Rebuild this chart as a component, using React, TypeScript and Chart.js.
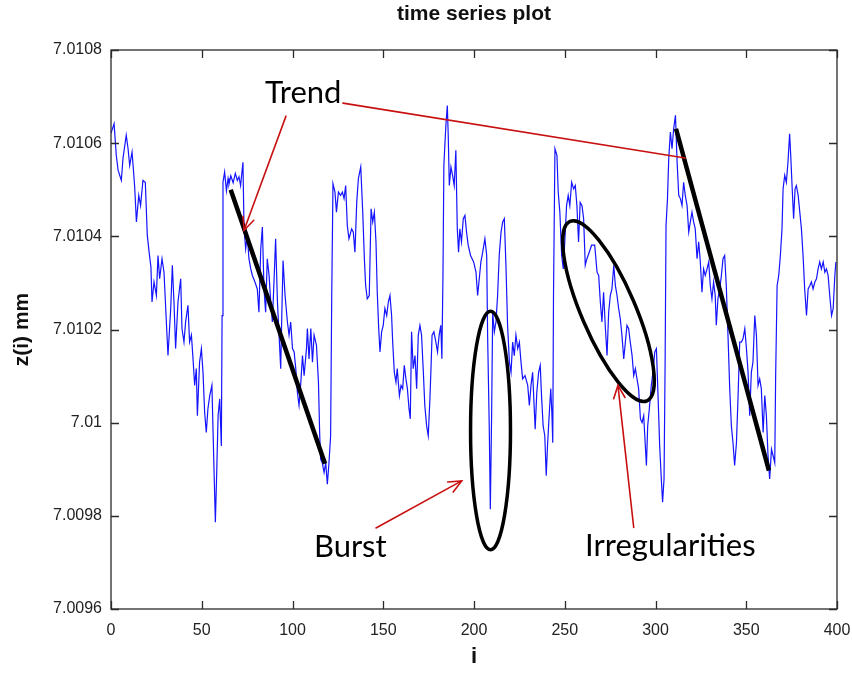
import React, { useEffect, useRef } from 'react';
import { Chart, registerables } from 'chart.js';

Chart.register(...registerables);

// ---- data ----
const sampleIndex = [
  0, 1.7, 2.9, 3.9, 5.7, 6.6, 8.4, 9.4, 10.3, 11.6,
  13, 14, 15.3, 16.3, 17.6, 18.9, 20, 21, 22, 22.6,
  23.7, 25, 25.9, 26.8, 28.1, 29.2, 30.5, 31.4, 32.9, 33.8,
  34.7, 35.6, 36.9, 38.4, 39.1, 40.2, 41.1, 42.4, 43.3, 44.3,
  45.2, 46.1, 47, 47.6, 48.8, 49.8, 50.7, 51.6, 52.5, 53.4,
  54.4, 55.6, 56.7, 57.5, 58.2, 59, 59.9, 60.8, 61.2, 61.7,
  62.6, 63.6, 64.5, 65, 66, 67.3, 68.5, 69.6, 70.5, 71.4,
  72.7, 73.3, 74.2, 75.1, 76, 77, 77.9, 79.3, 80.6, 81.5,
  82.5, 83.4, 84.3, 85.2, 86.1, 87.1, 88, 88.9, 89.8, 90.7,
  91.7, 92.6, 93.5, 94.1, 94.8, 95.9, 97.2, 98.1, 99, 100,
  100.9, 101.8, 102.7, 103.6, 104.6, 105.5, 106.4, 107.7, 108.2, 109.1,
  110.1, 111, 111.9, 113.2, 114.3, 115, 115.5, 116.4, 117.4, 118.3,
  119.2, 120.1, 121, 121.6, 122.3, 123.4, 124.2, 125.3, 126.5, 127.5,
  128.4, 129.3, 130.2, 131.1, 132.6, 133.5, 134.4, 135.4, 136.3, 137.6,
  138.7, 139.6, 140.3, 141.2, 142.3, 143.3, 144.2, 145.1, 146, 146.7,
  147.5, 148.2, 149.1, 150, 150.9, 151.9, 152.8, 153.7, 154.6, 155.2,
  156.1, 157, 157.7, 158.9, 159.8, 160.7, 161.6, 162.5, 163.3, 164.2,
  164.9, 165.6, 166.5, 167.5, 168.4, 169.3, 170.2, 171.1, 172, 172.9,
  173.9, 174.8, 175.7, 176.3, 176.9, 177.9, 179, 179.9, 180.8, 181.7,
  182.3, 182.9, 183.4, 184.5, 185.3, 185.8, 186.4, 187.3, 188.2, 189.1,
  190, 190.8, 191.5, 192.2, 193.1, 194.1, 195, 195.9, 196.8, 198.1,
  199.8, 201.1, 202, 202.9, 203.8, 204.8, 206, 207, 207.5, 208.4,
  209, 209.7, 210.3, 211.2, 212.1, 213, 213.9, 214.9, 215.8, 216.7,
  217.6, 218.5, 219.5, 220.4, 221.3, 222.2, 223.1, 224.1, 225, 225.9,
  226.8, 228.1, 229.6, 230.5, 231.4, 232.3, 233.2, 233.7, 234.6, 235.6,
  236.5, 237.2, 238.1, 239, 239.8, 240.5, 241.4, 242.3, 242.9, 243.4,
  243.8, 244.6, 245.7, 246.4, 247.3, 248.3, 249.2, 250.1, 251, 251.9,
  252.8, 253.8, 254.9, 255.8, 256.7, 257.6, 258.5, 259.5, 260.4, 261.3,
  262.2, 263.5, 264.8, 266.5, 267.8, 268.7, 269.6, 270.5, 271.4, 272.4,
  273.3, 274.2, 275.1, 276, 277, 277.9, 278.8, 279.7, 280.6, 281.5,
  282.5, 283.4, 284.3, 285.2, 286.1, 287.1, 288, 288.9, 289.8, 290.7,
  291.7, 292.6, 293.5, 294.4, 295, 295.7, 296.6, 297.7, 298.6, 299.6,
  300.5, 301.4, 302.3, 303.2, 303.9, 304.7, 305.3, 305.8, 306.6, 307.3,
  308.2, 309.1, 310, 311, 311.9, 312.8, 313.7, 314.6, 315.5, 316.4,
  317.4, 318.3, 319.2, 320.1, 321, 321.9, 322.9, 323.8, 324.7, 325.6,
  326.5, 327.4, 328.4, 329.3, 330.2, 331.1, 332, 332.9, 333.5, 334.4,
  335.4, 336.3, 337.2, 338.1, 339, 340, 340.9, 341.8, 342.7, 343.6,
  344.6, 345.5, 346.4, 347.3, 348.2, 349.2, 350.1, 351, 351.9, 352.8,
  353.7, 354.7, 355.6, 356.5, 357.4, 358.3, 359.3, 360.2, 361.1, 362,
  362.9, 363.9, 364.8, 365.7, 366.2, 367, 367.9, 368.8, 369.7, 370.3,
  371.2, 372.1, 373, 373.9, 374.5, 375.4, 376.1, 376.9, 377.6, 378.6,
  379.5, 380.4, 381.3, 382.2, 383.2, 384.1, 385, 385.9, 386.8, 387.8,
  388.7, 389.6, 390.5, 391.4, 392.4, 393.3, 394.2, 395.1, 396, 397,
  397.9, 398.8, 399.4,
];

const zValues = [
  7.010621, 7.010642, 7.010574, 7.010542, 7.01052, 7.010567, 7.010617, 7.010588, 7.010552, 7.010581,
  7.010509, 7.010431, 7.010488, 7.010466, 7.01052, 7.010516, 7.010402, 7.010366, 7.010334, 7.010259,
  7.010302, 7.010273, 7.010359, 7.010309, 7.010352, 7.010323, 7.010216, 7.010144, 7.010245, 7.010338,
  7.010259, 7.010159, 7.010259, 7.010309, 7.010202, 7.010173, 7.010216, 7.010252, 7.010173, 7.010188,
  7.010137, 7.01008, 7.010116, 7.010015, 7.01013, 7.010159, 7.010108, 7.010022, 7.009979, 7.01003,
  7.010058, 7.01008, 7.009908, 7.009786, 7.009886, 7.010015, 7.010051, 7.00995, 7.01023, 7.010516,
  7.010538, 7.010498, 7.010524, 7.010512, 7.01053, 7.010515, 7.010535, 7.01052, 7.010528, 7.010509,
  7.010559, 7.010416, 7.010373, 7.010402, 7.010352, 7.01033, 7.010316, 7.010302, 7.010287, 7.010237,
  7.010373, 7.01042, 7.010287, 7.010237, 7.010352, 7.010316, 7.010259, 7.010216, 7.010302, 7.010395,
  7.010259, 7.010188, 7.010116, 7.01023, 7.010348, 7.010273, 7.010216, 7.010188, 7.010216, 7.010159,
  7.010152, 7.010116, 7.010065, 7.010037, 7.010087, 7.010144, 7.010101, 7.010159, 7.010202, 7.010137,
  7.010202, 7.01013, 7.010188, 7.010166, 7.010087, 7.009972, 7.009922, 7.009914, 7.009893, 7.009914,
  7.009868, 7.009914, 7.009972, 7.010266, 7.010513, 7.010495, 7.010452, 7.010495, 7.010488, 7.010495,
  7.010481, 7.010509, 7.010423, 7.010395, 7.010416, 7.010409, 7.010366, 7.010474, 7.010524, 7.010549,
  7.010452, 7.010352, 7.010294, 7.010266, 7.010273, 7.010459, 7.010431, 7.010452, 7.010388, 7.01028,
  7.010202, 7.010152, 7.010195, 7.010209, 7.010245, 7.01023, 7.010259, 7.010273, 7.01023, 7.010173,
  7.010108, 7.010087, 7.010116, 7.010058, 7.01008, 7.010073, 7.010123, 7.010094, 7.010073, 7.01003,
  7.010008, 7.010195, 7.010116, 7.010144, 7.010073, 7.010188, 7.010209, 7.010188, 7.010116, 7.010037,
  7.009993, 7.009972, 7.010051, 7.010116, 7.010188, 7.010195, 7.010173, 7.010152, 7.010188, 7.010209,
  7.010137, 7.010316, 7.010553, 7.010638, 7.010681, 7.010617, 7.010509, 7.010549, 7.010531, 7.010509,
  7.010585, 7.010416, 7.010366, 7.010416, 7.010388, 7.010438, 7.010445, 7.010409, 7.010381, 7.010359,
  7.010345, 7.010323, 7.010273, 7.010309, 7.010345, 7.010366, 7.010395, 7.010359, 7.010188, 7.009993,
  7.009814, 7.010015, 7.010237, 7.010195, 7.010216, 7.010273, 7.010359, 7.010409, 7.010431, 7.010438,
  7.010338, 7.010209, 7.01013, 7.010108, 7.010173, 7.010144, 7.010188, 7.010159, 7.010173, 7.01013,
  7.010094, 7.010101, 7.01008, 7.010037, 7.01008, 7.010108, 7.01003, 7.009986, 7.010065, 7.010108,
  7.010123, 7.010058, 7.009993, 7.009972, 7.009886, 7.00995, 7.010015, 7.010073, 7.010022, 7.009957,
  7.010273, 7.010588, 7.010574, 7.010495, 7.010452, 7.010359, 7.01033, 7.010395, 7.010466, 7.010488,
  7.010466, 7.010516, 7.010502, 7.010509, 7.010466, 7.010388, 7.010473, 7.010466, 7.010438, 7.010338,
  7.010352, 7.010366, 7.010381, 7.010381, 7.010323, 7.010316, 7.010259, 7.010216, 7.01028, 7.010202,
  7.010144, 7.010237, 7.010273, 7.010287, 7.010338, 7.010294, 7.010273, 7.010245, 7.010223, 7.010188,
  7.010137, 7.010173, 7.010209, 7.010202, 7.010173, 7.010144, 7.010101, 7.010116, 7.010094, 7.010073,
  7.010008, 7.01, 7.010015, 7.00995, 7.009908, 7.009993, 7.01003, 7.01008, 7.010108, 7.010152,
  7.010159, 7.010058, 7.00995, 7.009879, 7.009829, 7.009879, 7.01013, 7.010423, 7.010481, 7.010567,
  7.010624, 7.010588, 7.010631, 7.01066, 7.01056, 7.010488, 7.010481, 7.010466, 7.010516, 7.010488,
  7.010466, 7.010409, 7.010431, 7.010452, 7.010431, 7.010416, 7.010352, 7.010388, 7.010345, 7.01028,
  7.01033, 7.010316, 7.01033, 7.010345, 7.010294, 7.010266, 7.010302, 7.010273, 7.010209, 7.010266,
  7.010287, 7.010316, 7.010352, 7.010359, 7.010294, 7.01018, 7.010073, 7.009993, 7.009957, 7.009908,
  7.009957, 7.010058, 7.010173, 7.010173, 7.01018, 7.010202, 7.010159, 7.010108, 7.010015, 7.010108,
  7.01013, 7.01023, 7.010188, 7.01008, 7.010094, 7.010073, 7.009979, 7.010058, 7.010015, 7.009929,
  7.009879, 7.009943, 7.009929, 7.009914, 7.010101, 7.010294, 7.010316, 7.010359, 7.010416, 7.010502,
  7.010531, 7.010516, 7.01056, 7.01062, 7.010574, 7.010495, 7.010438, 7.010502, 7.010509, 7.010488,
  7.010452, 7.010416, 7.010359, 7.010287, 7.01023, 7.010287, 7.010294, 7.010302, 7.010287, 7.010302,
  7.010309, 7.01033, 7.010345, 7.01033, 7.010345, 7.010323, 7.01033, 7.010316, 7.010273, 7.01023,
  7.010245, 7.010316, 7.010345,
];

const xMin = 0;
const xMax = 400;
const xStep = 50;
const yMin = 7.0096;
const yMax = 7.0108;
const yStep = 0.0002;

const chartTitle = 'time series plot';
const xAxisTitle = 'i';
const yAxisTitle = 'z(i) mm';

// annotation anchors, in data units [i, z]
const trendSegments = [
  [65.95, 7.0105, 117.9, 7.009912],
  [311.3, 7.010631, 362.5, 7.009897],
];
const arrowSegments = [
  [96.4, 7.010658, 73.3, 7.010413, 1],
  [127.8, 7.010686, 316.3, 7.010568, 0],
  [146, 7.009774, 193.2, 7.009875, 1],
  [288, 7.009775, 279.3, 7.01008, 1],
];
const burstEllipse = [209.1, 7.009983, 11, 0.000256];
const irregularEllipseAxis = [252.9, 7.010432, 295.3, 7.010047];
const annotationTexts = ['Trend', 'Burst', 'Irregularities'];
const annotationTextAnchors = [
  [84.8, 7.010686],
  [111.8, 7.009712],
  [261.2, 7.009714],
];

const fmtY = (v: number) => String(parseFloat(Number(v).toFixed(4)));

const overlayPlugin = {
  id: 'overlay',
  afterDatasetsDraw(chart: any) {
    const { ctx, scales } = chart;
    const xs = scales.x;
    const ys = scales.y;
    const px = (v: number) => xs.getPixelForValue(v);
    const py = (v: number) => ys.getPixelForValue(v);
    ctx.save();

    // thick black trend lines
    ctx.strokeStyle = '#000';
    ctx.lineWidth = 4.5;
    ctx.lineCap = 'butt';
    for (const [i1, z1, i2, z2] of trendSegments) {
      ctx.beginPath();
      ctx.moveTo(px(i1), py(z1));
      ctx.lineTo(px(i2), py(z2));
      ctx.stroke();
    }

    // ellipses
    ctx.lineWidth = 3.5;
    {
      const [ci, cz, ri, rz] = burstEllipse;
      const cx = px(ci);
      const cy = py(cz);
      ctx.beginPath();
      ctx.ellipse(cx, cy, Math.abs(px(ci + ri) - cx), Math.abs(py(cz + rz) - cy), 0, 0, Math.PI * 2);
      ctx.stroke();
    }
    {
      const [i1, z1, i2, z2] = irregularEllipseAxis;
      const x1 = px(i1), y1 = py(z1), x2 = px(i2), y2 = py(z2);
      const cx = (x1 + x2) / 2;
      const cy = (y1 + y2) / 2;
      const a = Math.hypot(x2 - x1, y2 - y1) / 2;
      const rot = Math.atan2(y2 - y1, x2 - x1);
      ctx.beginPath();
      ctx.ellipse(cx, cy, a, 27, rot, 0, Math.PI * 2);
      ctx.stroke();
    }

    // red arrows
    ctx.strokeStyle = 'rgb(200,16,16)';
    ctx.lineWidth = 1.6;
    ctx.lineCap = 'round';
    for (const [i1, z1, i2, z2, head] of arrowSegments) {
      const x1 = px(i1), y1 = py(z1), x2 = px(i2), y2 = py(z2);
      ctx.beginPath();
      ctx.moveTo(x1, y1);
      ctx.lineTo(x2, y2);
      ctx.stroke();
      if (head) {
        const ang = Math.atan2(y2 - y1, x2 - x1);
        const L = 14;
        const s = 0.42;
        ctx.beginPath();
        ctx.moveTo(x2 - L * Math.cos(ang - s), y2 - L * Math.sin(ang - s));
        ctx.lineTo(x2, y2);
        ctx.lineTo(x2 - L * Math.cos(ang + s), y2 - L * Math.sin(ang + s));
        ctx.stroke();
      }
    }

    // annotation labels
    ctx.fillStyle = '#000';
    ctx.font = '31px Lato, "Open Sans", sans-serif';
    ctx.textAlign = 'left';
    ctx.textBaseline = 'alphabetic';
    annotationTexts.forEach((t, k) => {
      const [i, z] = annotationTextAnchors[k];
      ctx.fillText(t, px(i), py(z));
    });
    ctx.restore();
  },
  afterDraw(chart: any) {
    const { ctx, chartArea: a, scales } = chart;
    const xs = scales.x;
    const ys = scales.y;
    ctx.save();
    ctx.strokeStyle = '#2a2a2a';
    ctx.lineWidth = 1.3;
    ctx.strokeRect(a.left, a.top, a.right - a.left, a.bottom - a.top);
    const tl = 8;
    ctx.beginPath();
    for (const t of xs.ticks) {
      const X = Math.round(xs.getPixelForValue(t.value)) + 0.5;
      ctx.moveTo(X, a.bottom); ctx.lineTo(X, a.bottom - tl);
      ctx.moveTo(X, a.top); ctx.lineTo(X, a.top + tl);
    }
    for (const t of ys.ticks) {
      const Y = Math.round(ys.getPixelForValue(t.value)) + 0.5;
      ctx.moveTo(a.left, Y); ctx.lineTo(a.left + tl, Y);
      ctx.moveTo(a.right, Y); ctx.lineTo(a.right - tl, Y);
    }
    ctx.stroke();

    ctx.fillStyle = '#111';
    ctx.textAlign = 'center';
    ctx.textBaseline = 'middle';
    const cx = (a.left + a.right) / 2;
    ctx.font = 'bold 21px "Liberation Sans", Arial, sans-serif';
    ctx.fillText(chartTitle, cx, 14);
    ctx.font = 'bold 22px "Liberation Sans", Arial, sans-serif';
    ctx.fillText(xAxisTitle, cx, 657);
    ctx.save();
    ctx.translate(22, (a.top + a.bottom) / 2);
    ctx.rotate(-Math.PI / 2);
    ctx.font = 'bold 21px "Liberation Sans", Arial, sans-serif';
    ctx.fillText(yAxisTitle, 0, 0);
    ctx.restore();
    ctx.restore();
  },
};

export default function App() {
  const ref = useRef<HTMLCanvasElement | null>(null);
  useEffect(() => {
    document.body.style.margin = '0';
    const canvas = ref.current;
    if (!canvas) return;
    const n = Math.min(sampleIndex.length, zValues.length);
    const points = [];
    for (let k = 0; k < n; k++) points.push({ x: sampleIndex[k], y: zValues[k] });
    const tickFont = { family: '"Liberation Sans", Arial, sans-serif', size: 16 };
    const chart = new Chart(canvas, {
      type: 'line',
      data: {
        datasets: [
          {
            data: points,
            borderColor: 'rgb(20,20,255)',
            borderWidth: 1.2,
            pointRadius: 0,
            tension: 0,
            fill: false,
          },
        ],
      },
      options: {
        responsive: false,
        animation: false,
        devicePixelRatio: 1,
        layout: { padding: { top: 50, right: 15, left: 0, bottom: 0 } },
        plugins: { legend: { display: false }, tooltip: { enabled: false }, title: { display: false } },
        scales: {
          x: {
            type: 'linear',
            min: xMin,
            max: xMax,
            afterFit: (s: any) => { s.height = 64; s.paddingLeft = 0; s.paddingRight = 0; },
            grid: { display: false, drawTicks: false },
            border: { display: false },
            ticks: { stepSize: xStep, padding: 12, maxRotation: 0, autoSkip: false, color: '#222', font: tickFont },
          },
          y: {
            type: 'linear',
            min: yMin,
            max: yMax,
            afterFit: (s: any) => { s.width = 111; s.paddingTop = 0; s.paddingBottom = 0; },
            grid: { display: false, drawTicks: false },
            border: { display: false },
            ticks: { stepSize: yStep, padding: 9, color: '#222', font: tickFont, callback: (v: any) => fmtY(v) },
          },
        },
      },
      plugins: [overlayPlugin],
    } as any);
    return () => chart.destroy();
  }, []);
  return <canvas ref={ref} width={852} height={673} style={{ display: 'block' }} />;
}
